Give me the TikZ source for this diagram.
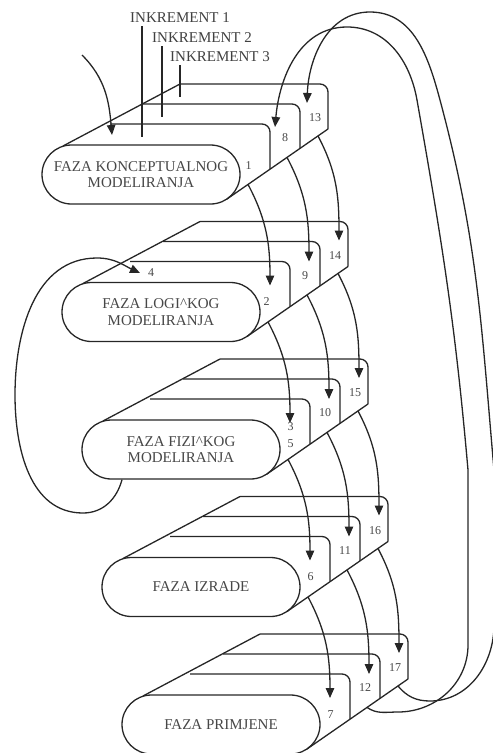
\documentclass[tikz,border=0pt]{standalone}
\usepackage{fontspec}
\setmainfont{Liberation Serif}
\usetikzlibrary{arrows.meta,calc}
\begin{document}
\begin{tikzpicture}[x=1pt,y=1pt,
  ln/.style={line width=1.3pt, draw=black!85},
  conn/.style={ln, -{Triangle[length=10pt,width=8.5pt]}},
  phase/.style={ln, rectangle, rounded corners=29.5pt, minimum width=198pt, minimum height=59pt,
    inner sep=0pt, align=center, font=\fontsize{15}{16.5}\selectfont, text=black!72},
  num/.style={font=\fontsize{12}{12}\selectfont, text=black!72, inner sep=0pt},
  inc/.style={font=\fontsize{15}{15}\selectfont, text=black!75, inner sep=0pt, anchor=west}
]
\useasboundingbox (0,0) rectangle (493,-753);

% ---------- the five phase stacks ----------
\foreach \i/\txt in {1/{FAZA KONCEPTUALNOG\\MODELIRANJA},
                     2/{FAZA LOGI\textasciicircum KOG\\MODELIRANJA},
                     3/{FAZA FIZI\textasciicircum KOG\\MODELIRANJA},
                     4/{FAZA IZRADE},
                     5/{FAZA PRIMJENE}}{
  \pgfmathtruncatemacro{\mid}{\i+7}
  \pgfmathtruncatemacro{\back}{\i+12}
  \begin{scope}[shift={({42+20*(\i-1)},{-145-137.5*(\i-1)})}]
    \node[phase] (s\i) at (99,-29.5) {\txt};
    % extrusion silhouette
    \draw[ln] (21,-1) -- (138,61);
    \draw[ln] (185,-54) -- (286,16);
    % increment layers
    \draw[ln, rounded corners=8pt] (68,21) -- (228,21) -- (228,-24.2);
    \draw[ln, rounded corners=8pt] (101,41) -- (258,41) -- (258,-3.4);
    \draw[ln, rounded corners=8pt] (138,61) -- (286,61) -- (286,16);
    % exits and arrow tips
    \coordinate (s\i-e0) at (206,-39.4);
    \coordinate (s\i-e1) at (245,-12.4);
    \coordinate (s\i-e2) at (276,9);
    \coordinate (s\i-t0) at (208,-3);
    \coordinate (s\i-t1) at (247,21);
    \coordinate (s\i-t2) at (277,42);
    % numbers
    \node[num] (m\i) at (243,7) {\mid};
    \node[num] (b\i) at (273,27) {\back};
  \end{scope}
}

% front numbers
\node[num] (n1) at ($(s1.north east)+(8,-21)$) {1};
\node[num] (n2) at ($(s2.north east)+(6,-20)$) {2};
\node[num] (n3) at ($(s3.north east)+(10,-7)$) {3};
\node[num] (n5) at ($(s3.north east)+(10,-24)$) {5};
\node[num] (n6) at ($(s4.north east)+(10,-20)$) {6};
\node[num] (n7) at ($(s5.north east)+(10,-20)$) {7};
\node[num] (n4) at (151,-273) {4};

% special tips in first stack
\coordinate (s1-t1) at (275,-127);
\coordinate (s1-t2) at (307,-103);
\coordinate (s1-in) at (112,-135);
\coordinate (s2-t4) at (140,-273);

% ---------- increment labels ----------
\node[inc] (inc1) at (130,-18) {INKREMENT 1};
\node[inc] (inc2) at (152,-38) {INKREMENT 2};
\node[inc] (inc3) at (170,-57) {INKREMENT 3};
\coordinate (inc1-end) at (142,-137);
\coordinate (inc2-end) at (162,-117);
\coordinate (inc3-end) at (180,-97);
\draw[ln] ([yshift=-3pt]inc1-end |- inc1.south) -- (inc1-end);
\draw[ln] ([yshift=-3pt]inc2-end |- inc2.south) -- (inc2-end);
\draw[ln] ([yshift=-3pt]inc3-end |- inc3.south) -- (inc3-end);

% ---------- entry arrow ----------
\coordinate (entry) at (82,-55);
\draw[conn] (entry) to[out=-45,in=95] (s1-in);

% ---------- transitions between phases ----------
\foreach \i [evaluate=\i as \j using int(\i+1)] in {1,...,4}{
  \foreach \k in {0,1,2}{
    \draw[conn] (s\i-e\k) to[out=-62,in=90] (s\j-t\k);
  }
}

% ---------- loop from physical back to logical ----------
\coordinate (s3-lp) at ([xshift=-59pt]s3.south);
\draw[conn] (s3-lp) to[out=-105,in=0] (83,-513) to[out=180,in=-90] (15,-395)
  to[out=90,in=180] (97,-258) to[out=0,in=155] (s2-t4);

% ---------- big loops back to the first phase ----------
\draw[conn] (s5-e1) to[out=-35,in=180] (398,-712) to[out=0,in=-90] (468,-645)
  -- (468,-470) to[out=95,in=-80] (417,-100) to[out=100,in=0] (347,-27)
  to[out=180,in=85] (s1-t1);
\draw[conn] (s5-e2) to[out=-50,in=180] (430,-701) to[out=0,in=-90] (494,-625)
  -- (494,-470) to[out=95,in=-75] (440,-100) to[out=105,in=0] (370,-12)
  to[out=180,in=88] (s1-t2);
\end{tikzpicture}
\end{document}
